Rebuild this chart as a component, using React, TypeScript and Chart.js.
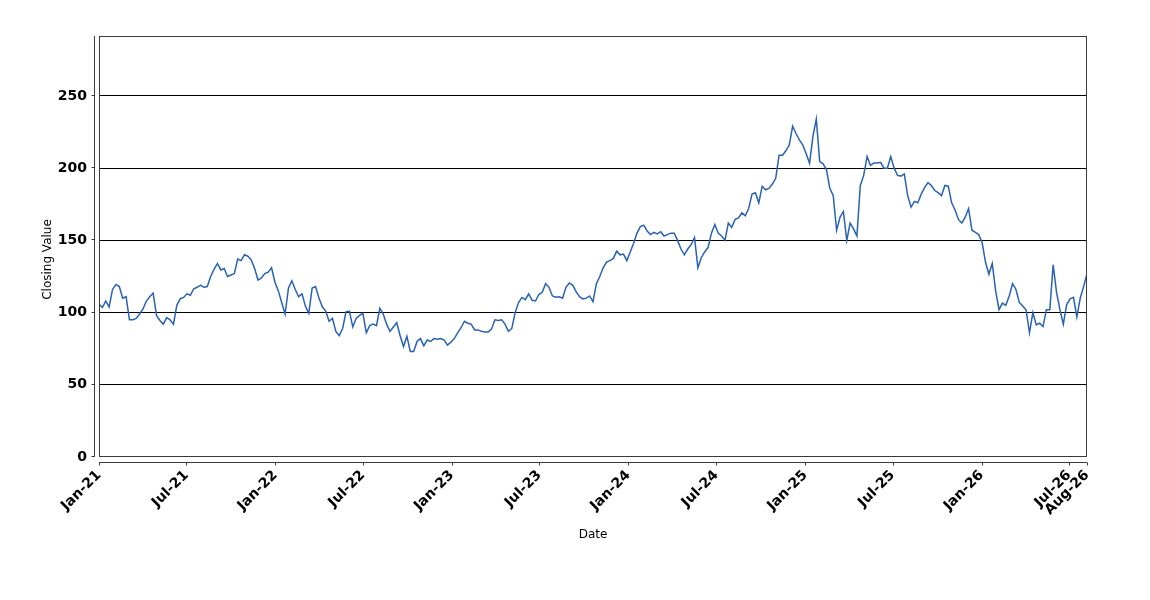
import { useEffect, useRef } from "react";
import { Chart, registerables } from "chart.js";
import type { ChartConfiguration, Plugin } from "chart.js";

Chart.register(...registerables);

// weekly closes, first point on 1 Jan 2021
const START = Date.UTC(2021, 0, 1);
const STEP_DAYS = 7;
const MONTHS = ["Jan", "Feb", "Mar", "Apr", "May", "Jun", "Jul", "Aug", "Sep", "Oct", "Nov", "Dec"];

const CLOSE_2021 = [
  106, 103.5, 108, 104, 116, 119.5, 118, 110, 111, 95, 95, 96, 99, 102.5, 108, 111, 113.5, 98, 94.5, 92,
  96.5, 95, 92, 105, 109.5, 110.5, 113, 112, 116.5, 117.5, 119, 117.5, 118, 125, 130, 134, 129.5,
  130.5, 125, 126, 127, 137, 136, 140, 139, 136.5, 130.5, 122.5, 124, 127, 128, 131, 121,
];
const CLOSE_2022 = [
  115, 107, 99, 117, 122, 116, 111, 113, 104.5, 99.5, 117, 118, 110, 104, 101, 94, 96, 87, 84, 89,
  100.5, 101, 90, 96, 98, 99.5, 86, 91, 92, 91, 103, 99, 92, 87, 90, 93, 84, 76.5, 83.5, 73, 73, 80,
  82, 77, 81, 80, 82, 81.5, 82, 81, 77.5, 79.5,
];
const CLOSE_2023 = [
  82, 86, 89.5, 94, 92.6, 92, 88, 88, 87, 86.5, 86.5, 88.5, 95, 94.5, 95, 92, 87, 89, 100, 107, 110.5,
  109, 113, 108.5, 108, 112.5, 114, 120, 117.5, 111.5, 110.7, 111, 110, 117.5, 120.5, 119, 114.5, 111,
  109.5, 110, 111.5, 107.5, 120, 125, 131, 135, 136, 137.5, 142.5, 140, 140.5, 136,
];
const CLOSE_2024 = [
  142, 148, 155, 159.5, 160.5, 156.5, 154, 155.5, 154.5, 156, 153, 154, 155, 155, 150, 144, 140, 144,
  147, 152, 131, 138, 142, 145, 155, 161, 155, 153, 150, 162, 159, 164.5, 165.5, 169, 167, 172, 182,
  183, 176, 187.5, 185, 186, 189, 193, 209, 209, 212, 216, 229, 224, 219.5, 216,
];
const CLOSE_2025 = [
  210, 203.4, 222, 234, 204.5, 203, 199, 186, 181, 157, 166, 170, 150, 162, 158, 153, 188, 195, 208,
  202, 203.5, 203.5, 204, 200, 200, 208, 200, 195, 194.5, 196, 181, 173, 177, 176, 182, 186.5, 190, 188,
  184.5, 183, 181, 188, 187.5, 176, 171, 164.5, 162, 166, 172, 157, 155.5, 154,
];
const CLOSE_2026 = [
  148.5, 135, 126.5, 134, 115, 102, 106.5, 105, 111.5, 120, 116, 107, 104.5, 101.8, 86, 100, 91.4, 92.6,
  90.3, 102, 102, 133, 114, 102, 92, 105.5, 109.5, 110.5, 97, 110, 118, 127,
];

const CLOSES = [...CLOSE_2021, ...CLOSE_2022, ...CLOSE_2023, ...CLOSE_2024, ...CLOSE_2025, ...CLOSE_2026];

const Y_MAX = 291.5;
const Y_STEP = 50;

const LAST_DAY = (CLOSES.length - 1) * STEP_DAYS;

const dayLabel = (d: number) => {
  const dt = new Date(START + d * 86400000);
  return `${MONTHS[dt.getUTCMonth()]}-${String(dt.getUTCFullYear()).slice(2)}`;
};

// Jan / Jul ticks, plus the last date
const TICK_DAYS: number[] = [];
for (let y = 2021; y <= 2026; y++) {
  for (const m of [0, 6]) {
    const d = Math.round((Date.UTC(y, m, 1) - START) / 86400000);
    if (d < LAST_DAY - 10) TICK_DAYS.push(d);
  }
}
TICK_DAYS.push(LAST_DAY);

const FONT = "'DejaVu Sans', sans-serif";

const framePlugin: Plugin<"line"> = {
  id: "frame",
  afterDraw(chart) {
    const { ctx, chartArea: a, scales } = chart;
    ctx.save();
    ctx.strokeStyle = "#3a3a3a";
    ctx.lineWidth = 1;
    ctx.strokeRect(a.left + 0.5, a.top + 0.5, a.right - a.left - 1, a.bottom - a.top - 1);

    ctx.beginPath();
    const ax = a.left - 4.5;
    ctx.moveTo(ax, a.top);
    ctx.lineTo(ax, a.bottom);
    scales.y.ticks.forEach((t) => {
      const py = Math.round(scales.y.getPixelForValue(t.value)) - 0.5;
      ctx.moveTo(ax - 3, py);
      ctx.lineTo(ax, py);
    });
    const ay = a.bottom + 5.5;
    ctx.moveTo(a.left, ay);
    ctx.lineTo(a.right, ay);
    scales.x.ticks.forEach((t) => {
      const px = Math.round(scales.x.getPixelForValue(t.value)) + 0.5;
      ctx.moveTo(px, ay);
      ctx.lineTo(px, ay + 3);
    });
    ctx.stroke();

    ctx.fillStyle = "#000";
    ctx.font = `12px ${FONT}`;
    ctx.textAlign = "center";
    ctx.textBaseline = "middle";
    ctx.fillText("Date", (a.left + a.right) / 2, a.bottom + 78);
    ctx.translate(a.left - 51, (a.top + a.bottom) / 2 + 13);
    ctx.rotate(-Math.PI / 2);
    ctx.fillText("Closing Value", 0, 0);
    ctx.restore();
  },
};

export default function App() {
  const canvasRef = useRef<HTMLCanvasElement | null>(null);

  useEffect(() => {
    const ctx = canvasRef.current!.getContext("2d")!;

    const config: ChartConfiguration<"line"> = {
      type: "line",
      data: {
        datasets: [
          {
            label: "Closing Value",
            data: CLOSES.map((v, i) => ({ x: i * STEP_DAYS, y: v })),
            borderColor: "#2862b4",
            borderWidth: 1.5,
            pointRadius: 0,
            tension: 0,
            fill: false,
          },
        ],
      },
      options: {
        responsive: true,
        maintainAspectRatio: false,
        animation: false,
        layout: { padding: { top: 36, right: 63, left: 0, bottom: 0 } },
        plugins: { legend: { display: false }, tooltip: { enabled: false } },
        scales: {
          x: {
            type: "linear",
            min: 0,
            max: LAST_DAY,
            afterBuildTicks: (scale) => {
              scale.ticks = TICK_DAYS.map((value) => ({ value }));
            },
            afterFit: (scale) => {
              scale.height = 143;
            },
            grid: { display: false, drawTicks: false },
            border: { display: false },
            ticks: {
              autoSkip: false,
              maxRotation: 45,
              minRotation: 45,
              padding: 10,
              color: "#000",
              font: { family: FONT, size: 14, weight: "bold" },
              callback: (v) => dayLabel(Number(v)),
            },
          },
          y: {
            min: 0,
            max: Y_MAX,
            afterFit: (scale) => {
              scale.width = 99;
            },
            grid: {
              drawTicks: false,
              color: (c) => (c.tick && c.tick.value > 0 ? "#000" : "rgba(0,0,0,0)"),
              lineWidth: 1,
            },
            border: { display: false },
            ticks: {
              stepSize: Y_STEP,
              includeBounds: false,
              padding: 12,
              color: "#000",
              font: { family: FONT, size: 14, weight: "bold" },
            },
          },
        },
      },
      plugins: [framePlugin],
    };

    const chart = new Chart(ctx, config);
    return () => chart.destroy();
  }, []);

  return (
    <div style={{ position: "fixed", left: 0, top: 0, width: 1150, height: 600, background: "#fff" }}>
      <canvas ref={canvasRef} />
    </div>
  );
}
